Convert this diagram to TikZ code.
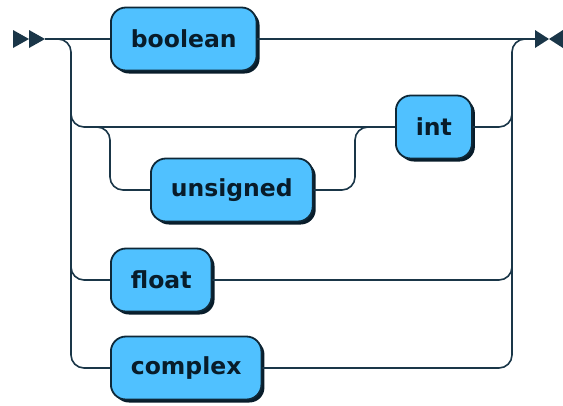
\documentclass[tikz,border=0pt]{standalone}
\usepackage{fontspec}
\setmainfont{DejaVu Sans}
\usepackage{tikz}
\usetikzlibrary{shadows}
\definecolor{termfill}{RGB}{80,193,255}
\definecolor{termdraw}{RGB}{14,40,56}
\definecolor{railline}{RGB}{26,54,72}
\definecolor{termshadow}{RGB}{8,28,42}

\begin{document}
\begin{tikzpicture}[x=1pt, y=-1pt, term/.style={rounded corners=15pt, draw=termdraw, fill=termfill, line width=1.8pt, minimum height=63pt, inner xsep=20pt, text=termshadow, font=\fontsize{23.5}{28}\selectfont\bfseries, anchor=west, drop shadow={shadow xshift=3pt, shadow yshift=-3pt, fill=termshadow, opacity=1}}, rail/.style={draw=railline, line width=1.6pt, rounded corners=13pt}]
    \useasboundingbox (0,0) rectangle (563,405);

    %Nodes
    \node[term](boolean) at (110,39){boolean};
    \node[term](int) at (395,127){int};
    \node[term](unsigned) at (150,190){unsigned};
    \node[term](float) at (110,280){float};
    \node[term](complex) at (110,368){complex};
    \coordinate (start) at (45,39);
    \coordinate (finish) at (535,39);

    %Markers
    \fill[railline] (13,30) -- (29,39) -- (13,48) -- cycle;
    \fill[railline] (29,30) -- (45,39) -- (29,48) -- cycle;
    \fill[railline] (535,30) -- (549,39) -- (535,48) -- cycle;
    \fill[railline] (563,30) -- (549,39) -- (563,48) -- cycle;

    %Lines
    \draw[rail] (start) -- (boolean.west);
    \draw[rail] (boolean.east) -- (finish);
    \draw[rail] (58,39) -| (71,368) -- (complex.west);
    \draw[rail] (71,100) |- (int.west);
    \draw[rail] (97,127) -| (110,190) -- (unsigned.west);
    \draw[rail] (unsigned.east) -| (355,127) -- (int.west);
    \draw[rail] (71,250) |- (float.west);
    \draw[rail] (int.east) -| (512,39) -- (finish);
    \draw[rail] (float.east) -| (512,100);
    \draw[rail] (complex.east) -| (512,100);

\end{tikzpicture}
\end{document}
